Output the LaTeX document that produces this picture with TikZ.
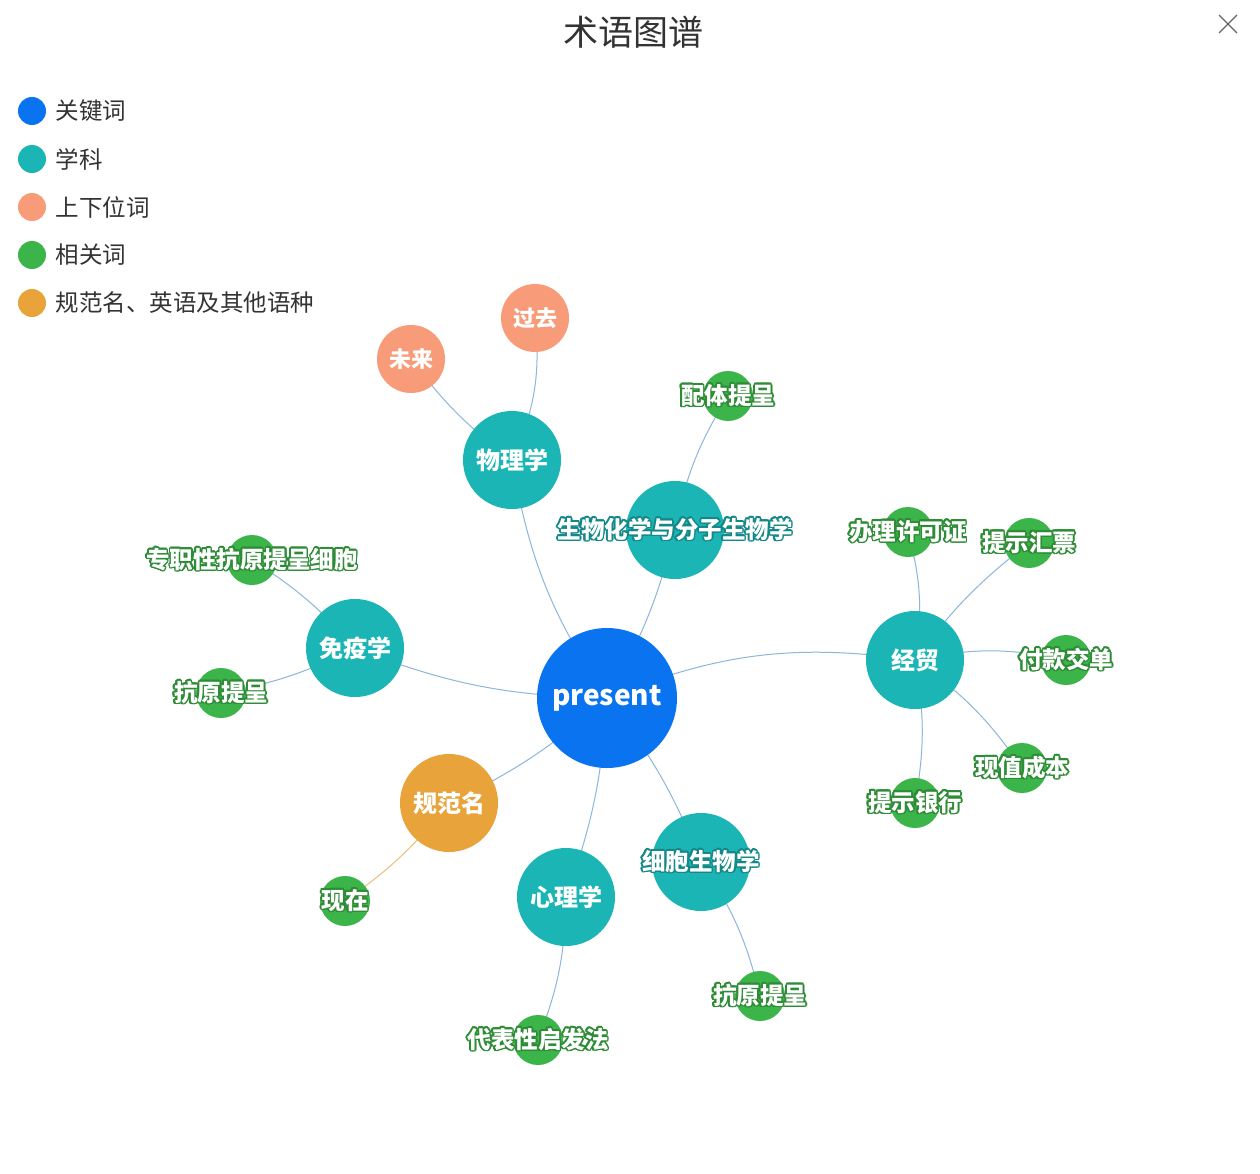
\documentclass[tikz,border=0pt]{standalone}
\usepackage{fontspec}
\setmainfont{Noto Sans CJK SC}
\usepackage{contour}
\contournumber{16}
\definecolor{kw}{HTML}{0A74F0}
\definecolor{sub}{HTML}{1BB5B5}
\definecolor{hyp}{HTML}{F89B78}
\definecolor{rel}{HTML}{3BB54A}
\definecolor{std}{HTML}{E8A33A}
\definecolor{edge}{HTML}{8DB6DA}
\definecolor{gtxt}{HTML}{2E8B36}
\begin{document}
\begin{tikzpicture}[x=1pt,y=-1pt,
  big/.style={circle,fill=kw,minimum size=140pt,inner sep=0,text=white,font=\fontsize{28}{28}\selectfont\bfseries},
  sub/.style={circle,fill=sub,minimum size=98pt,inner sep=0,text=white,font=\fontsize{24}{24}\selectfont\bfseries},
  std/.style={sub,fill=std},
  hyp/.style={circle,fill=hyp,minimum size=68pt,inner sep=0,text=white,font=\fontsize{22}{22}\selectfont\bfseries},
  rel/.style={circle,fill=rel,minimum size=50pt,inner sep=0},
  lab/.style={font=\fontsize{23.5}{23.5}\selectfont\bfseries,text=white},
  e/.style={draw=edge,line width=1pt},
  leg/.style={circle,minimum size=28pt,inner sep=0},
  legt/.style={anchor=west,font=\fontsize{23.5}{23.5}\selectfont,text=black!80}]
\useasboundingbox (0,0) rectangle (1260,1174);
\fill[white] (0,0) rectangle (1260,1174);
\node[font=\fontsize{35}{35}\selectfont,text=black!80] (title) at (633,32) {术语图谱};
\draw[black!60,line width=1.3pt] (1219,15) -- (1237,33) (1237,15) -- (1219,33);
\foreach \c/\t/\y [count=\i] in {kw/关键词/111,sub/学科/159,hyp/上下位词/207,rel/相关词/255,std/规范名、英语及其他语种/303}{
  \node[leg,fill=\c] (l\i) at (32,\y) {};
  \node[legt] (lt\i) at (52,\y) {\t};
}
\coordinate (pre) at (607,698);
\coordinate (phy) at (512,460);
\coordinate (bio) at (675,530);
\coordinate (imm) at (355,648);
\coordinate (eco) at (915,660);
\coordinate (gfm) at (449,803);
\coordinate (psy) at (566,897);
\coordinate (cel) at (701,862);
\coordinate (past) at (535,318);
\coordinate (fut) at (411,359);
\coordinate (r1) at (728,396);
\coordinate (r2) at (252,560);
\coordinate (r3) at (221,693);
\coordinate (r4) at (908,532);
\coordinate (r5) at (1029,543);
\coordinate (r6) at (1066,660);
\coordinate (r7) at (1022,768);
\coordinate (r8) at (915,803);
\coordinate (r9) at (345,901);
\coordinate (r10) at (760,996);
\coordinate (r11) at (538,1040);
\path[e] (pre) to[bend left=12] (phy);
\path[e] (pre) to[bend right=8] (bio);
\path[e] (pre) to[bend left=10] (imm);
\path[e] (pre) to[bend left=15] (eco);
\path[e] (pre) to[bend left=8] (gfm);
\path[e] (pre) to[bend left=8] (psy);
\path[e] (pre) to[bend left=8] (cel);
\path[e] (phy) to[bend right=15] (past);
\path[e] (phy) to[bend left=8] (fut);
\path[e] (bio) to[bend left=10] (r1);
\path[e] (imm) to[bend right=8] (r2);
\path[e] (imm) to[bend left=8] (r3);
\path[e] (eco) to[bend right=12] (r4);
\path[e] (eco) to[bend left=8] (r5);
\path[e] (eco) to[bend left=12] (r6);
\path[e] (eco) to[bend left=10] (r7);
\path[e] (eco) to[bend left=10] (r8);
\path[e,draw=std!70] (gfm) to[bend left=8] (r9);
\path[e] (cel) to[bend left=10] (r10);
\path[e] (psy) to[bend left=10] (r11);
\node[big] (npre) at (pre) {present};
\node[sub] (nphy) at (phy) {物理学};
\node[sub] (nbio) at (bio) {};
\node[sub] (nimm) at (imm) {免疫学};
\node[sub] (neco) at (eco) {经贸};
\node[std] (ngfm) at (gfm) {规范名};
\node[sub] (npsy) at (psy) {心理学};
\node[sub] (ncel) at (cel) {};
\node[hyp] (npast) at (past) {过去};
\node[hyp] (nfut) at (fut) {未来};
\foreach \r in {r1,r2,r3,r4,r5,r6,r7,r8,r9,r10,r11}{\node[rel] (n\r) at (\r) {};}
\contourlength{1.6pt}
\node[lab] (tbio) at (bio) {\contour{sub!75!black}{生物化学与分子生物学}};
\node[lab] (tcel) at (cel) {\contour{sub!75!black}{细胞生物学}};
\node[lab] (t1) at (r1) {\contour{gtxt}{配体提呈}};
\node[lab] (t2) at (r2) {\contour{gtxt}{专职性抗原提呈细胞}};
\node[lab] (t3) at (r3) {\contour{gtxt}{抗原提呈}};
\node[lab] (t4) at (r4) {\contour{gtxt}{办理许可证}};
\node[lab] (t5) at (r5) {\contour{gtxt}{提示汇票}};
\node[lab] (t6) at (r6) {\contour{gtxt}{付款交单}};
\node[lab] (t7) at (r7) {\contour{gtxt}{现值成本}};
\node[lab] (t8) at (r8) {\contour{gtxt}{提示银行}};
\node[lab] (t9) at (r9) {\contour{gtxt}{现在}};
\node[lab] (t10) at (r10) {\contour{gtxt}{抗原提呈}};
\node[lab] (t11) at (r11) {\contour{gtxt}{代表性启发法}};
\end{tikzpicture}
\end{document}
